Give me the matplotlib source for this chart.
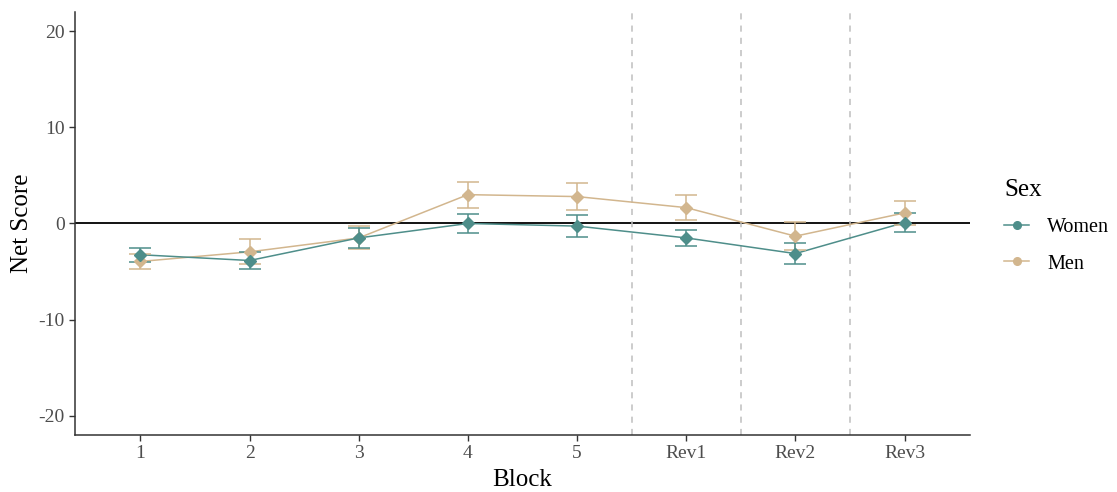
import matplotlib.pyplot as plt
from matplotlib.lines import Line2D

plt.rcParams["font.family"] = ["Liberation Serif", "DejaVu Serif"]
plt.rcParams["axes.unicode_minus"] = False

blocks = ["1", "2", "3", "4", "5", "Rev1", "Rev2", "Rev3"]
women_mean = [-3.25, -3.85, -1.5, 0.0, -0.27, -1.5, -3.13, 0.1]
women_err = [0.75, 0.85, 1.0, 0.95, 1.13, 0.87, 1.05, 0.95]
men_mean = [-3.95, -2.95, -1.5, 3.0, 2.8, 1.65, -1.32, 1.1]
men_err = [0.75, 1.3, 1.2, 1.35, 1.4, 1.27, 1.45, 1.25]
reversal_bounds = [5.5, 6.5, 7.5]

women_col = "#4E8E8A"
men_col = "#D2B68E"

fig = plt.figure(figsize=(11.17, 4.92), dpi=100)
ax = fig.add_axes([0.0671, 0.1159, 0.8013, 0.8597])

x = list(range(1, len(blocks) + 1))

ax.axhline(0, color="black", lw=1.3, zorder=1)
for xv in reversal_bounds:
    ax.axvline(xv, color="#BEBEBE", lw=1.1, ls=(0, (4, 4)), zorder=1)

for mean, err, col in [(men_mean, men_err, men_col),
                       (women_mean, women_err, women_col)]:
    ax.plot(x, mean, color=col, lw=1.1, zorder=2)
    ax.errorbar(x, mean, yerr=err, fmt="none", ecolor=col, elinewidth=1.1,
                capsize=8, capthick=1.1, zorder=3)
    ax.plot(x, mean, ls="none", marker="D", ms=6, color=col, zorder=4)

ax.set_xlim(0.4, 8.6)
ax.set_ylim(-22, 22)
ax.set_xticks(x)
ax.set_xticklabels(blocks)
ax.set_yticks([-20, -10, 0, 10, 20])

for side in ["top", "right"]:
    ax.spines[side].set_visible(False)
for side in ["left", "bottom"]:
    ax.spines[side].set_color("#333333")
    ax.spines[side].set_linewidth(1.1)
ax.tick_params(colors="#333333", labelcolor="#4D4D4D", labelsize=14,
               length=4, width=1)

ax.set_xlabel("Block", fontsize=18, labelpad=5)
ax.set_ylabel("Net Score", fontsize=18, labelpad=4)

handles = [
    Line2D([], [], color=women_col, marker="o", ms=5.5, lw=1.1),
    Line2D([], [], color=men_col, marker="o", ms=5.5, lw=1.1),
]
leg = fig.legend(handles, ["Women", "Men"], title="Sex",
                 loc="upper left", bbox_to_anchor=(0.899, 0.636),
                 frameon=False, fontsize=14.5, title_fontsize=18,
                 handlelength=1.25, handletextpad=0.9, labelspacing=0.85,
                 borderpad=0, borderaxespad=0, alignment="left")

fig.savefig("out.png", dpi=100)
